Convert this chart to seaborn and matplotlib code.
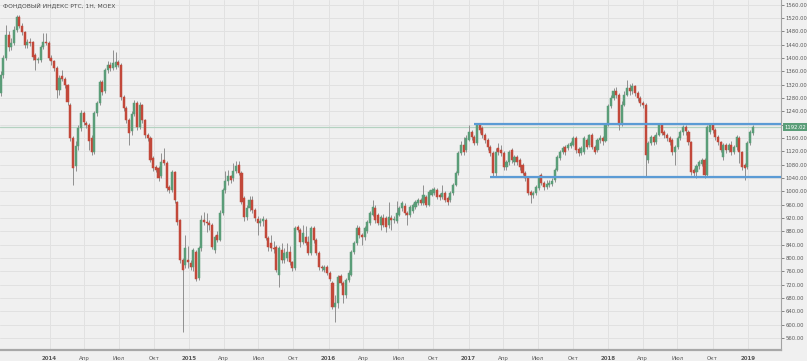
import numpy as np
import pandas as pd
import matplotlib
matplotlib.use("Agg")
import matplotlib.pyplot as plt
from matplotlib.transforms import blended_transform_factory
import seaborn as sns

# ---------------- data (weekly candles) ----------------
first_week = "2013-08-26"

opens = [
    1295, 1349, 1400, 1469, 1433, 1445, 1484, 1523, 1496, 1478,
    1439, 1448, 1448, 1409, 1394, 1394, 1433, 1448, 1446, 1400,
    1390, 1370, 1304, 1345, 1338, 1319, 1260, 1160, 1075, 1135,
    1190, 1235, 1205, 1199, 1160, 1118, 1235, 1265, 1328, 1300,
    1364, 1379, 1370, 1372, 1388, 1380, 1283, 1250, 1214, 1180,
    1232, 1265, 1193, 1259, 1214, 1169, 1160, 1100, 1073, 1070,
    1046, 1094, 1085, 1013, 1004, 1058, 968, 914, 794, 779,
    795, 785, 772, 818, 740, 830, 914, 908, 906, 899,
    824, 869, 854, 935, 1004, 1030, 1045, 1040, 1061, 1079,
    1055, 980, 923, 950, 974, 944, 917, 905, 912, 914,
    860, 845, 830, 833, 749, 824, 794, 800, 818, 788,
    770, 893, 884, 848, 862, 848, 815, 890, 854, 815,
    773, 764, 773, 755, 725, 653, 665, 746, 725, 689,
    734, 749, 818, 845, 890, 869, 863, 880, 905, 929,
    950, 929, 899, 920, 920, 899, 920, 914, 911, 930,
    950, 955, 935, 929, 940, 953, 965, 974, 965, 983,
    959, 990, 995, 1004, 989, 983, 995, 980, 974, 995,
    1019, 1055, 1115, 1139, 1124, 1154, 1178, 1163, 1145, 1199,
    1190, 1169, 1154, 1133, 1115, 1055, 1130, 1124, 1115, 1073,
    1088, 1124, 1088, 1103, 1094, 1079, 1055, 1040, 998, 989,
    995, 1010, 1049, 1025, 1013, 1020, 1022, 1034, 1064, 1100,
    1118, 1133, 1130, 1136, 1139, 1160, 1127, 1115, 1118, 1154,
    1139, 1169, 1133, 1124, 1154, 1160, 1150, 1199, 1255, 1280,
    1300, 1290, 1205, 1260, 1290, 1310, 1300, 1315, 1295, 1280,
    1265, 1259, 1094, 1145, 1163, 1148, 1170, 1199, 1178, 1169,
    1160, 1154, 1118, 1133, 1160, 1178, 1193, 1178, 1148, 1064,
    1058, 1075, 1082, 1094, 1049, 1178, 1199, 1184, 1163, 1148,
    1103, 1139, 1124, 1139, 1118, 1133, 1160, 1118, 1079, 1073,
    1145, 1175,
]

highs = [
    1360, 1410, 1499, 1480, 1460, 1495, 1530, 1530, 1505, 1482,
    1458, 1460, 1452, 1415, 1402, 1440, 1475, 1475, 1450, 1408,
    1395, 1375, 1350, 1364, 1343, 1322, 1265, 1165, 1150, 1200,
    1245, 1240, 1212, 1205, 1168, 1240, 1272, 1335, 1333, 1370,
    1390, 1388, 1424, 1418, 1395, 1385, 1290, 1255, 1220, 1240,
    1275, 1270, 1268, 1262, 1218, 1175, 1165, 1106, 1080, 1075,
    1115, 1130, 1090, 1020, 1065, 1062, 972, 918, 800, 869,
    835, 795, 830, 825, 835, 930, 938, 935, 915, 905,
    870, 880, 945, 1010, 1062, 1065, 1050, 1085, 1090, 1092,
    1060, 985, 960, 985, 985, 950, 925, 920, 925, 920,
    865, 870, 850, 840, 835, 845, 830, 845, 835, 792,
    895, 900, 890, 900, 895, 865, 895, 895, 860, 820,
    778, 778, 778, 760, 730, 690, 750, 752, 730, 740,
    765, 825, 852, 900, 895, 875, 895, 915, 940, 974,
    960, 935, 930, 932, 925, 968, 930, 925, 970, 955,
    970, 965, 940, 958, 965, 975, 980, 980, 1019, 990,
    1005, 1010, 1012, 1010, 995, 1020, 1000, 985, 1000, 1025,
    1062, 1120, 1150, 1163, 1170, 1199, 1185, 1170, 1205, 1202,
    1195, 1175, 1160, 1140, 1120, 1130, 1145, 1140, 1120, 1095,
    1125, 1130, 1110, 1110, 1100, 1085, 1060, 1045, 1005, 1000,
    1020, 1050, 1055, 1030, 1035, 1035, 1040, 1070, 1110, 1125,
    1135, 1140, 1145, 1150, 1165, 1165, 1132, 1135, 1165, 1160,
    1172, 1175, 1138, 1160, 1168, 1165, 1205, 1262, 1290, 1310,
    1312, 1295, 1270, 1300, 1334, 1322, 1325, 1320, 1300, 1285,
    1272, 1265, 1150, 1170, 1170, 1178, 1205, 1205, 1185, 1175,
    1165, 1160, 1140, 1165, 1185, 1200, 1198, 1185, 1152, 1070,
    1082, 1095, 1100, 1100, 1199, 1205, 1205, 1190, 1168, 1152,
    1145, 1145, 1145, 1150, 1140, 1170, 1165, 1122, 1085, 1150,
    1185, 1198,
]

lows = [
    1285, 1340, 1395, 1420, 1425, 1440, 1478, 1490, 1470, 1430,
    1430, 1436, 1395, 1364, 1385, 1388, 1428, 1440, 1395, 1380,
    1360, 1280, 1290, 1330, 1310, 1260, 1150, 1019, 1060, 1125,
    1180, 1200, 1190, 1124, 1110, 1112, 1225, 1260, 1290, 1295,
    1355, 1362, 1365, 1368, 1372, 1275, 1240, 1205, 1139, 1170,
    1225, 1185, 1188, 1205, 1160, 1152, 1088, 1062, 1058, 1032,
    1040, 1078, 1002, 995, 998, 965, 900, 785, 578, 770,
    770, 765, 760, 730, 735, 820, 900, 878, 885, 828,
    815, 848, 850, 930, 995, 1020, 1025, 1032, 1055, 1050,
    962, 910, 915, 940, 935, 912, 869, 895, 895, 855,
    820, 822, 815, 758, 713, 785, 785, 792, 780, 762,
    765, 878, 833, 842, 838, 808, 810, 845, 808, 765,
    760, 758, 748, 730, 648, 608, 650, 718, 665, 680,
    728, 745, 812, 840, 860, 839, 855, 875, 900, 925,
    905, 898, 884, 892, 878, 890, 884, 905, 905, 925,
    940, 930, 899, 922, 935, 948, 960, 958, 958, 952,
    955, 985, 990, 978, 975, 978, 968, 958, 968, 990,
    1015, 1050, 1110, 1110, 1118, 1150, 1155, 1140, 1140, 1175,
    1160, 1145, 1125, 1105, 1043, 1043, 1110, 1105, 1065, 1065,
    1080, 1085, 1080, 1080, 1065, 1048, 1032, 988, 965, 980,
    988, 1005, 1018, 1005, 1008, 1012, 1015, 1028, 1060, 1095,
    1112, 1110, 1125, 1130, 1135, 1115, 1105, 1110, 1112, 1128,
    1132, 1128, 1112, 1118, 1145, 1140, 1148, 1195, 1250, 1275,
    1280, 1185, 1195, 1255, 1285, 1290, 1292, 1285, 1270, 1255,
    1250, 1043, 1085, 1140, 1140, 1142, 1165, 1168, 1160, 1152,
    1140, 1110, 1079, 1128, 1155, 1170, 1170, 1140, 1050, 1045,
    1040, 1068, 1075, 1040, 1043, 1172, 1175, 1155, 1140, 1118,
    1095, 1115, 1118, 1110, 1112, 1125, 1085, 1065, 1034, 1068,
    1140, 1170,
]

closes = [
    1349, 1400, 1469, 1433, 1445, 1484, 1523, 1496, 1478, 1439,
    1448, 1446, 1403, 1394, 1396, 1433, 1448, 1446, 1400, 1390,
    1370, 1304, 1340, 1338, 1319, 1268, 1160, 1070, 1135, 1190,
    1235, 1208, 1199, 1150, 1118, 1235, 1265, 1328, 1298, 1364,
    1379, 1370, 1385, 1388, 1380, 1283, 1250, 1214, 1175, 1232,
    1265, 1193, 1259, 1214, 1169, 1160, 1094, 1070, 1064, 1040,
    1088, 1085, 1010, 1004, 1058, 974, 908, 794, 764, 830,
    788, 772, 824, 737, 830, 914, 908, 906, 899, 833,
    863, 854, 935, 1004, 1030, 1045, 1035, 1061, 1076, 1055,
    968, 923, 950, 974, 944, 920, 905, 912, 917, 860,
    833, 830, 828, 764, 830, 794, 815, 818, 788, 770,
    890, 884, 848, 875, 845, 815, 890, 854, 815, 773,
    770, 773, 755, 737, 653, 665, 743, 725, 689, 734,
    755, 818, 845, 890, 869, 863, 890, 908, 935, 953,
    914, 905, 923, 899, 893, 923, 914, 917, 935, 950,
    965, 935, 929, 953, 959, 968, 974, 965, 989, 959,
    998, 1004, 1007, 983, 983, 995, 974, 968, 995, 1019,
    1055, 1115, 1139, 1118, 1160, 1178, 1163, 1145, 1199, 1184,
    1169, 1154, 1133, 1115, 1055, 1118, 1118, 1115, 1073, 1088,
    1118, 1094, 1103, 1088, 1073, 1055, 1040, 995, 989, 995,
    1013, 1043, 1025, 1013, 1022, 1025, 1031, 1064, 1103, 1118,
    1130, 1118, 1139, 1145, 1160, 1124, 1115, 1130, 1160, 1133,
    1169, 1133, 1118, 1154, 1160, 1150, 1199, 1255, 1280, 1300,
    1290, 1200, 1260, 1290, 1310, 1300, 1315, 1295, 1280, 1265,
    1259, 1109, 1145, 1163, 1148, 1170, 1199, 1175, 1169, 1160,
    1148, 1118, 1133, 1160, 1178, 1193, 1180, 1148, 1058, 1055,
    1075, 1088, 1094, 1049, 1193, 1199, 1184, 1163, 1148, 1124,
    1139, 1124, 1139, 1118, 1133, 1163, 1118, 1073, 1070, 1145,
    1178, 1192.02,
]

price_ticks = list(range(560, 1561, 40))
quarter_ticks = ["2014-01-01", "2014-04-01", "2014-07-01", "2014-10-01",
                 "2015-01-01", "2015-04-01", "2015-07-01", "2015-10-01",
                 "2016-01-01", "2016-04-01", "2016-07-01", "2016-10-01",
                 "2017-01-01", "2017-04-01", "2017-07-01", "2017-10-01",
                 "2018-01-01", "2018-04-01", "2018-07-01", "2018-10-01",
                 "2019-01-01"]
quarter_labels = ["2014", "Апр", "Июл", "Окт", "2015", "Апр", "Июл", "Окт",
                  "2016", "Апр", "Июл", "Окт", "2017", "Апр", "Июл", "Окт",
                  "2018", "Апр", "Июл", "Окт", "2019"]
last_price = 1192.02
upper_level, upper_start = 1201, "2017-01-14"
lower_level, lower_start = 1044, "2017-02-25"
title = "ФОНДОВЫЙ ИНДЕКС РТС, 1Н, MOEX"

# ---------------- style ----------------
BG = "#f0f0f0"
GRID = "#e1e1e1"
UP = "#5a9d78"
DOWN = "#c2483a"
WICK = "#8f8f8f"
BLUE = "#5b9bd5"

sns.set_theme(style="whitegrid")
plt.rcParams["font.family"] = ["DejaVu Sans"]

df = pd.DataFrame({"open": opens, "high": highs, "low": lows, "close": closes})
df["date"] = pd.date_range(first_week, periods=len(df), freq="7D")
df["up"] = df["close"] >= df["open"]
df["top"] = df[["open", "close"]].max(axis=1)
df["bot"] = df[["open", "close"]].min(axis=1)
df["hi"] = df[["high", "top"]].max(axis=1)
df["lo"] = df[["low", "bot"]].min(axis=1)
df["body"] = (df["top"] - df["bot"]).clip(lower=2.5)

W, H = 807, 361
fig = plt.figure(figsize=(W / 100, H / 100), dpi=100, facecolor=BG)
ax = fig.add_axes([0, 11 / H, 781 / W, 350 / H])
ax.set_facecolor(BG)

d0 = df["date"].iloc[0]
xmin = d0 - pd.Timedelta(days=1.6)
xmax = d0 + pd.Timedelta(days=2041)

# wicks
ax.vlines(df["date"], df["lo"], df["hi"], color=WICK, lw=0.7, zorder=2)
# bodies
cols = np.where(df["up"], UP, DOWN)
ax.bar(df["date"], df["body"], bottom=df["bot"], width=5.4, color=cols,
       edgecolor=cols, linewidth=0.35, zorder=3)

# current price line
ax.axhline(last_price, color="#b4d2c1", lw=0.9, zorder=1)

# channel lines
ax.hlines(upper_level, pd.Timestamp(upper_start), xmax, color=BLUE, lw=1.6, zorder=4)
ax.hlines(lower_level, pd.Timestamp(lower_start), xmax, color=BLUE, lw=1.6, zorder=4)

ax.set_xlim(xmin, xmax)
ax.set_ylim(524, 1574)

# axes, ticks, grid
ax.yaxis.tick_right()
ax.set_yticks(price_ticks)
# the 1200.00 label sits under the last-price tag in the reference
ax.set_yticklabels(["" if p == 1200 else f"{p:.2f}" for p in price_ticks])
ax.set_xticks(pd.to_datetime(quarter_ticks))
ax.set_xticklabels(quarter_labels)
for lab in ax.get_xticklabels():
    if lab.get_text().isdigit():
        lab.set_fontweight("bold")
ax.tick_params(axis="y", labelsize=3.8, colors="#5a5a5a", length=2, width=0.5, pad=1)
ax.tick_params(axis="x", labelsize=4.0, colors="#5a5a5a", length=2, width=0.5, pad=2)
ax.grid(True, color=GRID, lw=0.7)
ax.set_axisbelow(True)
for s in ["top", "left"]:
    ax.spines[s].set_visible(False)
ax.spines["right"].set_color("#a3a3a3")
ax.spines["right"].set_linewidth(0.8)
ax.spines["bottom"].set_color("#a8a8a8")
ax.spines["bottom"].set_linewidth(1.6)
ax.set_xlabel("")
ax.set_ylabel("")

# last price tag
tr = blended_transform_factory(ax.transAxes, ax.transData)
ax.text(1.004, last_price, f"{last_price:.2f}", transform=tr, fontsize=3.8,
        color="white", ha="left", va="center", clip_on=False, zorder=6,
        bbox=dict(boxstyle="square,pad=0.3", fc=UP, ec="none"))

fig.text(3 / W, 1 - 5.5 / H, title, fontsize=4.3, color="#4a4a4a", ha="left", va="center")

fig.savefig("out.png", dpi=100, facecolor=BG)
